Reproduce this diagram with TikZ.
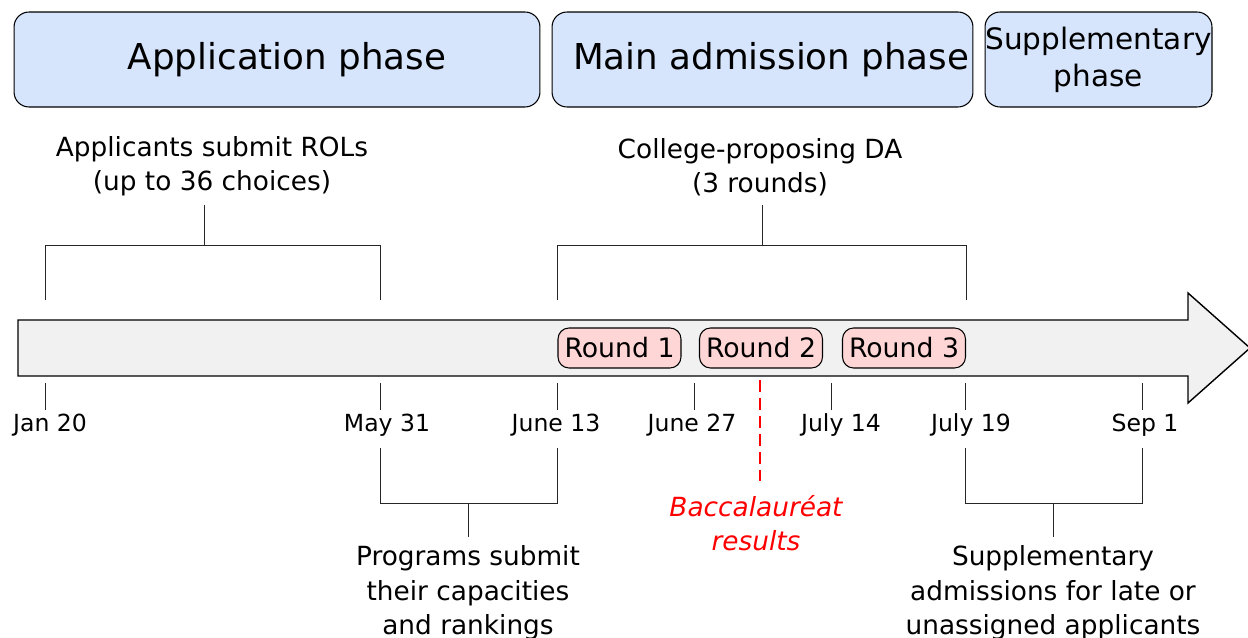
\documentclass[tikz,border=0pt]{standalone}
\usepackage{fontspec}
\setmainfont{DejaVu Sans}
\usetikzlibrary{positioning,calc}
\usepackage{xcolor}
\definecolor{phaseblue}{RGB}{214,228,252}
\definecolor{roundpink}{RGB}{255,214,214}
\definecolor{arrowgray}{RGB}{241,241,241}

\begin{document}
\begin{tikzpicture}[
  x=0.02cm, y=-0.02cm,
  phase/.style={draw, rounded corners=0.3cm, fill=phaseblue, line width=0.6pt, minimum height=1.9cm, align=center, inner sep=0pt},
  rnd/.style={draw, rounded corners=0.22cm, fill=roundpink, line width=0.6pt, minimum width=2.46cm, minimum height=0.8cm, inner sep=0pt, font=\fontsize{15.2}{18}\selectfont},
  date/.style={font=\fontsize{13.4}{16}\selectfont, inner sep=0pt},
  note/.style={align=center, font=\fontsize{15}{19.6}\selectfont, inner sep=5pt},
  brk/.style={line width=0.55pt, draw=black!85},
  tick/.style={line width=0.55pt, draw=black!85}
]
\useasboundingbox (0,0) rectangle (1248,638);

% phases
\node[phase, minimum width=10.52cm, font=\fontsize{20.3}{24}\selectfont] (ph1) at (277,59.5) {\hspace{0.4cm}Application phase};
\node[phase, minimum width=8.42cm, font=\fontsize{20.3}{24}\selectfont] (ph2) at (762.5,59.5) {\hspace{0.35cm}Main admission phase};
\node[phase, minimum width=4.54cm, font=\fontsize{16.8}{21}\selectfont] (ph3) at (1098.5,59.5) {Supplementary\\phase};

% timeline arrow
\draw[line width=0.8pt, fill=arrowgray] (18,320) -- (1188,320) -- (1188,293) -- (1250,348)
  -- (1188,403) -- (1188,376) -- (18,376) -- cycle;

\node[rnd] (r1) at (619.5,348) {Round 1};
\node[rnd] (r2) at (761,348) {Round 2};
\node[rnd] (r3) at (904,348) {Round 3};

% dates
\node[date] (jan) at (50,425) {Jan 20};
\node[date] (may) at (387,425) {May 31};
\node[date] (jun13) at (556,425) {June 13};
\node[date] (jun27) at (692,425) {June 27};
\node[date] (jul14) at (841,425) {July 14};
\node[date] (jul19) at (971,425) {July 19};
\node[date] (sep) at (1145,425) {Sep 1};

\coordinate (tjan) at (45,383);
\coordinate (tmay) at (380,383);
\coordinate (tjun13) at (557,383);
\coordinate (tjun27) at (694,383);
\coordinate (tjul14) at (831,383);
\coordinate (tjul19) at (965,383);
\coordinate (tsep) at (1142,383);
\draw[tick] (tjan) -- ++(0,27);
\draw[tick] (tmay) -- ++(0,27);
\draw[tick] (tjun13) -- ++(0,27);
\draw[tick] (tjun27) -- ++(0,27);
\draw[tick] (tjul14) -- ++(0,27);
\draw[tick] (tjul19) -- ++(0,27);
\draw[tick] (tsep) -- ++(0,27);

% notes above
\node[note] (rols) at (212,166) {Applicants submit ROLs\\(up to 36 choices)};
\node[note] (da) at (760,167) {College-proposing DA\\(3 rounds)};

\coordinate (b1l) at (45,300);
\coordinate (b1r) at (380,300);
\coordinate (b1m) at (204,245);
\draw[brk] (b1l) |- (b1r |- b1m) -- (b1r);
\draw[brk] (b1m) -- (b1m |- rols.south);

\coordinate (b2l) at (557,300);
\coordinate (b2r) at (966,300);
\coordinate (b2m) at (762,245);
\draw[brk] (b2l) |- (b2r |- b2m) -- (b2r);
\draw[brk] (b2m) -- (b2m |- da.south);

% notes below
\node[note] (progs) at (468,593) {Programs submit\\their capacities\\and rankings};
\node[note] (supp) at (1053,593) {Supplementary\\admissions for late or\\unassigned applicants};
\node[note, text=red, inner sep=8pt, font=\fontsize{15}{19.6}\selectfont\itshape] (bac) at (756,523) {Baccalauréat\\results};

\coordinate (b3l) at (380,448);
\coordinate (b3r) at (557,448);
\coordinate (b3m) at (468,503);
\draw[brk] (b3l) |- (b3r |- b3m) -- (b3r);
\draw[brk] (b3m) -- (b3m |- progs.north);

\coordinate (b4l) at (965,448);
\coordinate (b4r) at (1142,448);
\coordinate (b4m) at (1053,503);
\draw[brk] (b4l) |- (b4r |- b4m) -- (b4r);
\draw[brk] (b4m) -- (b4m |- supp.north);

% exam results marker
\coordinate (bactop) at (760,380);
\draw[red, line width=1.1pt, dash pattern=on 0.24cm off 0.12cm] (bactop) -- (bactop |- bac.north);
\end{tikzpicture}
\end{document}
